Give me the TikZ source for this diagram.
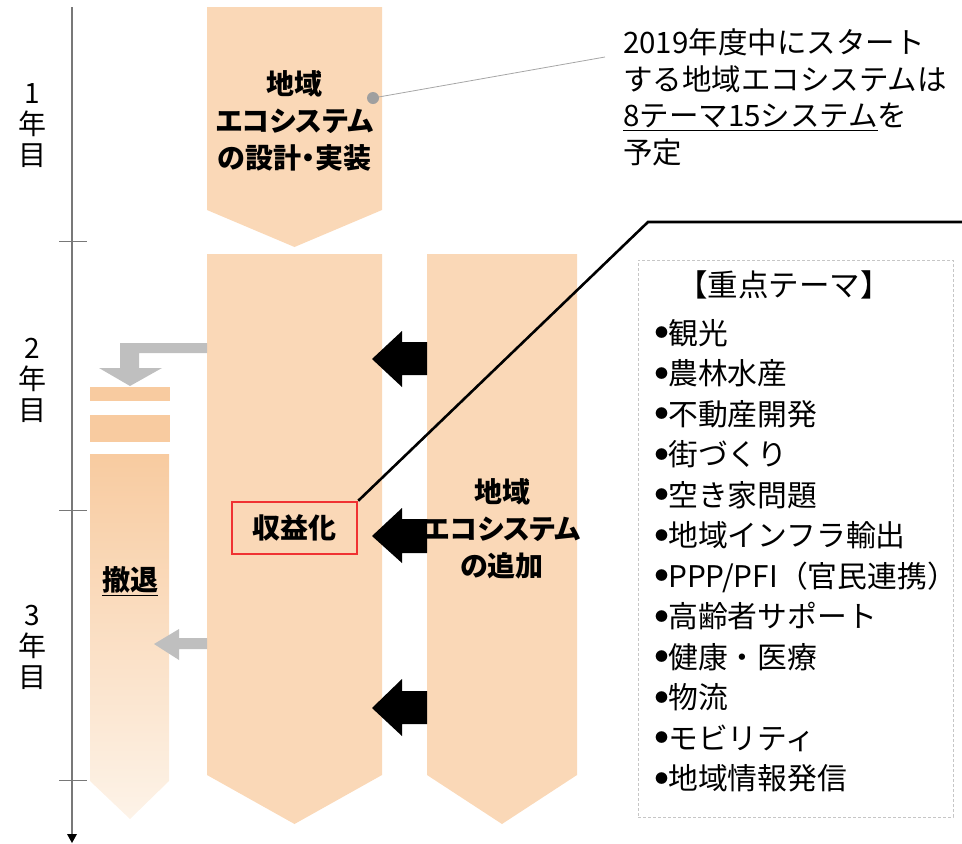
\documentclass[tikz,border=0pt]{standalone}
\usepackage{fontspec}
\setmainfont{Noto Sans CJK JP}
\newfontfamily\jpp[RawFeature=+palt]{Noto Sans CJK JP}
\usetikzlibrary{arrows.meta}
\definecolor{peach}{RGB}{250,216,183}
\definecolor{peachdeep}{RGB}{248,203,160}
\definecolor{peachpale}{RGB}{253,243,232}
\definecolor{arrowgray}{RGB}{191,191,191}
\definecolor{redbox}{RGB}{240,50,50}
\definecolor{axisgray}{RGB}{120,120,120}
\newcommand\blt{\raisebox{6.5pt}{\fontsize{13}{13}\selectfont ●}}
\tikzset{
  yearlbl/.style={align=center, inner sep=0pt, font=\fontsize{28}{31}\selectfont},
  boldlbl/.style={align=center, inner sep=0pt, font=\jpp\bfseries\fontsize{28}{37}\selectfont},
  plainlbl/.style={align=left, inner sep=0pt, font=\fontsize{29.5}{36.5}\selectfont},
  listlbl/.style={align=left, inner sep=0pt, font=\fontsize{29.8}{40.5}\selectfont},
  blockarrow/.style={fill=black},
  grayarrow/.style={fill=arrowgray},
  tick/.style={draw=axisgray, line width=0.9pt}
}
\begin{document}
\begin{tikzpicture}[x=1pt,y=-1pt]
\useasboundingbox (0,0) rectangle (962,844);

% time axis
\coordinate (axtop) at (72,7);
\coordinate (axbot) at (72,834);
\coordinate (axtip) at (72,843);
\draw[axisgray, line width=1.1pt] (axtop) -- (axbot);
\fill[black] (67,834) -- (77,834) -- (axtip) -- cycle;
\draw[tick] (59,241) -- (87,241);
\draw[tick] (59,510) -- (87,510);
\draw[tick] (59,780) -- (87,780);
\node[yearlbl] (y1) at (32,126) {1\\年\\目};
\node[yearlbl] (y2) at (32,380) {2\\年\\目};
\node[yearlbl] (y3) at (32,647) {3\\年\\目};

% chevrons
\fill[peach] (207,7) -- (382,7) -- (382,210) -- (294.5,247) -- (207,210) -- cycle;
\fill[peach] (207,254) -- (382,254) -- (382,775) -- (294.5,824) -- (207,775) -- cycle;
\fill[peach] (427,254) -- (577,254) -- (577,775) -- (502,824) -- (427,775) -- cycle;

% withdrawal column
\fill[peachdeep] (90,387) rectangle (170,401);
\fill[peachdeep] (90,415) rectangle (170,442);
\shade[top color=peachdeep, bottom color=peachpale] (90,454) -- (169,454) -- (169,781) -- (130,819) -- (90,781) -- cycle;

% texts in chevrons
\node[boldlbl] (design) at (294.5,121) {地域\\エコシステム\\の設計・実装};
\node[boldlbl] (add) at (502,529) {地域\\エコシステム\\の追加};
\node[boldlbl, draw=redbox, line width=2.5pt, minimum width=125pt, minimum height=52pt] (rev) at (294.5,528) {収益化};
\node[boldlbl] (wd) at (130,581) {\underline{撤退}};

% black block arrows (add -> main)
\fill[blockarrow] (427,342) -- (402,342) -- (402,331) -- (372,359) -- (402,387) -- (402,375) -- (427,375) -- cycle;
\fill[blockarrow] (427,519) -- (402,519) -- (402,508) -- (372,536) -- (402,563) -- (402,553) -- (427,553) -- cycle;
\fill[blockarrow] (427,691) -- (402,691) -- (402,679) -- (372,708) -- (402,736) -- (402,724) -- (427,724) -- cycle;

% gray arrows (main -> withdrawal)
\fill[grayarrow] (207,343) -- (120,343) -- (120,368) -- (99,368) -- (130,386) -- (162,368) -- (139,368) -- (139,353) -- (207,353) -- cycle;
\fill[grayarrow] (207,638) -- (179,638) -- (179,629) -- (154,644) -- (179,660) -- (179,649) -- (207,649) -- cycle;

% note top right
\node[plainlbl, anchor=west] (note) at (623,97.5) {2019年度中にスタート\\する地域エコシステムは\\\underline{8テーマ15システム}を\\予定};
\coordinate (dot) at (373,98);
\coordinate (noteend) at (605,57);
\draw[gray!70, line width=0.8pt] (dot) -- (noteend);
\fill[gray!75] (dot) circle (6);

% callout line from revenue box
\coordinate (bend) at (648,222);
\coordinate (lineend) at (962,222);
\draw[line width=2.6pt] (rev.north east) -- (bend) -- (lineend);

% theme box
\node[draw=gray!45, densely dashed, line width=0.7pt, minimum width=315pt, minimum height=557pt, inner sep=0pt] (themes) at (795.5,538.5) {};
\node[inner sep=0pt, font=\fontsize{30.5}{36}\selectfont] (thhead) at (784,285) {【重点テーマ】};
\node[listlbl, anchor=west] (thlist) at (655,555.5) {\blt 観光\\\blt 農林水産\\\blt 不動産開発\\\blt 街づくり\\\blt 空き家問題\\\blt 地域インフラ輸出\\\blt PPP/PFI（官民連携）\\\blt 高齢者サポート\\\blt 健康・医療\\\blt 物流\\\blt モビリティ\\\blt 地域情報発信};
\end{tikzpicture}
\end{document}
